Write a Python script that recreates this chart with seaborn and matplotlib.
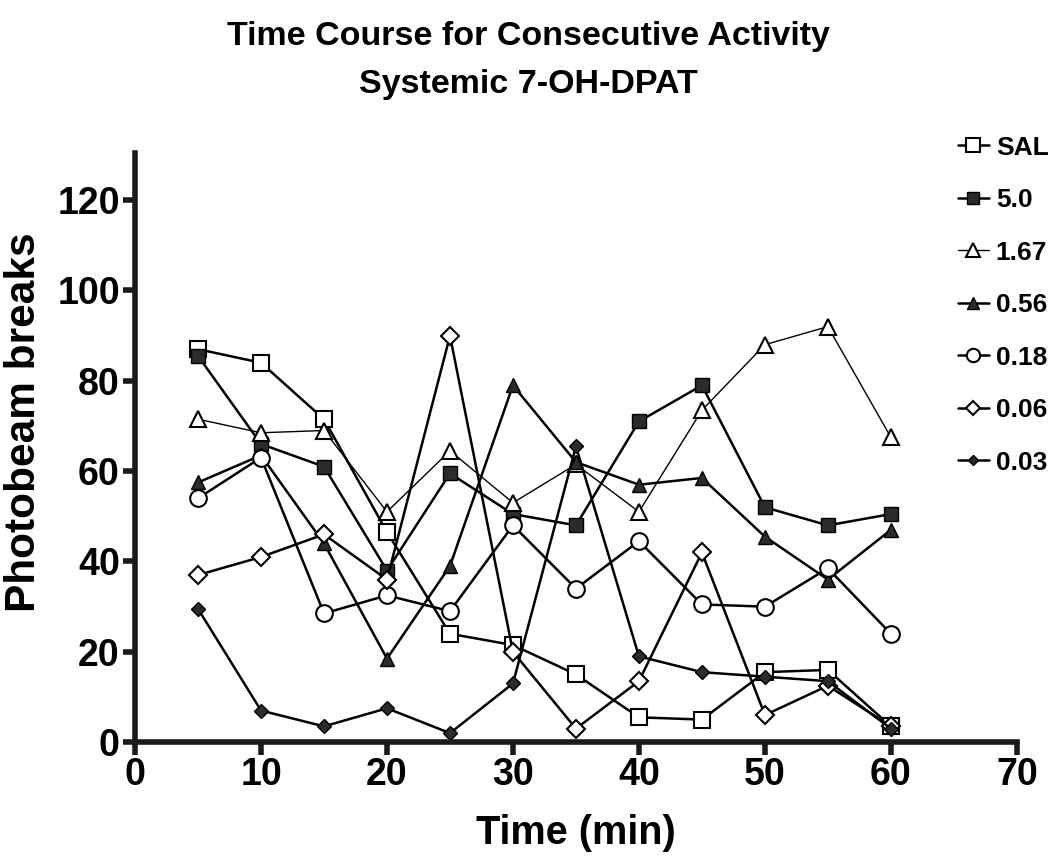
import matplotlib
matplotlib.use("Agg")
import matplotlib.pyplot as plt
import seaborn as sns
import pandas as pd

time_min = [5, 10, 15, 20, 25, 30, 35, 40, 45, 50, 55, 60]
doses = ["SAL", "5.0", "1.67", "0.56", "0.18", "0.06", "0.03"]
sal = [87, 84, 71.5, 46.5, 24, 21.5, 15, 5.5, 5, 15.5, 16, 3.5]
d5_0 = [85.5, 66, 61, 38, 59.5, 50.5, 48, 71, 79, 52, 48, 50.5]
d1_67 = [71.5, 68.5, 69, 51, 64.5, 53, 61.5, 51, 73.5, 88, 92, 67.5]
d0_56 = [57.5, 63.5, 44, 18.5, 39, 79, 62, 57, 58.5, 45.5, 36, 47]
d0_18 = [54, 63, 28.5, 32.5, 29, 48, 34, 44.5, 30.5, 30, 38.5, 24]
d0_06 = [37, 41, 46, 36, 90, 20, 3, 13.5, 42, 6, 12.5, 3.5]
d0_03 = [29.5, 7, 3.5, 7.5, 2, 13, 65.5, 19, 15.5, 14.5, 13.5, 3]
x_ticks = [0, 10, 20, 30, 40, 50, 60, 70]
y_ticks = [0, 20, 40, 60, 80, 100, 120]

series = [sal, d5_0, d1_67, d0_56, d0_18, d0_06, d0_03]
dark = "#2b2b2b"
styles = [
    dict(marker="s", ms=12, mfc="white", mec="black", mew=1.5, lw=1.8),
    dict(marker="s", ms=10, mfc=dark, mec="black", mew=1.0, lw=1.8),
    dict(marker="^", ms=12, mfc="white", mec="black", mew=1.5, lw=1.0),
    dict(marker="^", ms=10, mfc=dark, mec="black", mew=1.0, lw=1.8),
    dict(marker="o", ms=12, mfc="white", mec="black", mew=1.5, lw=1.8),
    dict(marker="D", ms=9, mfc="white", mec="black", mew=1.5, lw=1.8),
    dict(marker="D", ms=7, mfc=dark, mec="black", mew=1.0, lw=1.8),
]

sns.set_style("ticks")
plt.rcParams["font.family"] = ["Liberation Sans", "DejaVu Sans"]
plt.rcParams["font.weight"] = "bold"
plt.rcParams["text.color"] = "black"
plt.rcParams["axes.labelcolor"] = "black"
plt.rcParams["xtick.color"] = "black"
plt.rcParams["ytick.color"] = "black"

fig = plt.figure(figsize=(10.51, 8.58), dpi=100)
ax = fig.add_axes([0.1285, 0.135, 0.839, 0.687])

for name, vals, st in zip(doses, series, styles):
    df = pd.DataFrame({"t": time_min, "v": vals})
    sns.lineplot(data=df, x="t", y="v", ax=ax, color="black", label=name,
                 marker=st["marker"], markersize=st["ms"],
                 markerfacecolor=st["mfc"], markeredgecolor=st["mec"],
                 markeredgewidth=st["mew"], linewidth=st["lw"])

ax.set_xlim(0, 70)
ax.set_ylim(0, 130.5)
ax.set_xticks(x_ticks)
ax.set_yticks(y_ticks)
ax.set_xticklabels([str(v) for v in x_ticks], fontsize=27, fontweight="bold")
ax.set_yticklabels([str(v) for v in y_ticks], fontsize=27, fontweight="bold")
ax.set_xlabel("Time (min)", fontsize=28.5, fontweight="bold")
ax.set_ylabel("Photobeam breaks", fontsize=30.5, fontweight="bold")
ax.xaxis.label.set_va("center")
ax.yaxis.label.set_va("center")
ax.xaxis.set_label_coords(0.5, -0.1545)
ax.yaxis.set_label_coords(-0.126, 0.543)
for s in ["top", "right"]:
    ax.spines[s].set_visible(False)
for s in ["left", "bottom"]:
    ax.spines[s].set_linewidth(4)
    ax.spines[s].set_color("#1a1a1a")
ax.tick_params(axis="both", direction="out", length=9, width=4, color="#1a1a1a", pad=2)

fig.text(528 / 1051, 1 - 36 / 858, "Time Course for Consecutive Activity",
         ha="center", va="center", fontsize=24.5, fontweight="bold")
fig.text(528 / 1051, 1 - 85 / 858, "Systemic 7-OH-DPAT",
         ha="center", va="center", fontsize=24.5, fontweight="bold")

leg = ax.legend(loc="upper left", bbox_to_anchor=(0.901, 0.8543), bbox_transform=fig.transFigure,
                frameon=False, fontsize=19, handlelength=1.2, handletextpad=0.25,
                labelspacing=1.08, borderaxespad=0, markerscale=0.8)
for t in leg.get_texts():
    t.set_fontweight("bold")
    t.set_color("black")

fig.savefig("out.png", dpi=100)
